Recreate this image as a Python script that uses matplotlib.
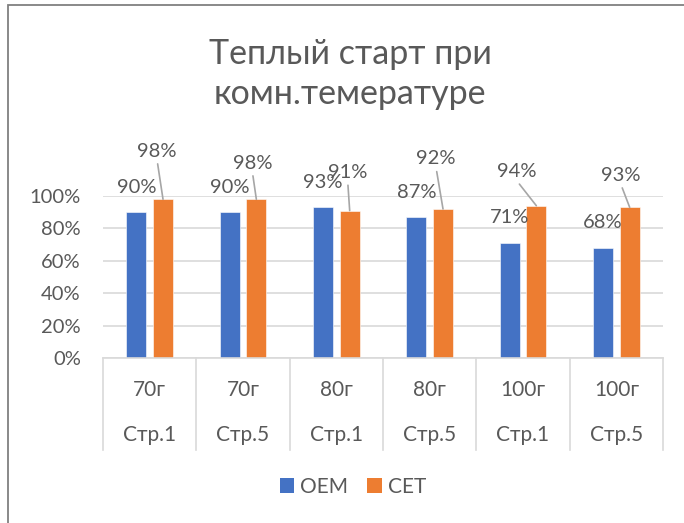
import matplotlib
matplotlib.use("Agg")
import matplotlib.pyplot as plt
import matplotlib.transforms as mtransforms
from matplotlib.patches import Rectangle, Patch
import numpy as np

# ---- data ----
weights = ["70г", "70г", "80г", "80г", "100г", "100г"]
pages = ["Стр.1", "Стр.5", "Стр.1", "Стр.5", "Стр.1", "Стр.5"]
series_names = ["OEM", "CET"]
oem = [0.90, 0.90, 0.93, 0.87, 0.71, 0.68]
cet = [0.98, 0.98, 0.91, 0.92, 0.94, 0.93]
yticks = [0, 0.2, 0.4, 0.6, 0.8, 1.0]
title = "Теплый старт при\nкомн.темературе"

# layout/style (pixel offsets of CET labels relative to bar top)
cet_label_offsets_px = [(-6, 48), (-4, 36), (-2, 38), (-7, 50), (-20, 34), (-9, 32)]

W, H, DPI = 684, 523, 100
BLUE = "#4472C4"
ORANGE = "#ED7D31"
TXT = "#595959"
GRID = "#D9D9D9"
FONT = ["Lato", "DejaVu Sans"]
plt.rcParams["font.family"] = FONT

fig = plt.figure(figsize=(W / DPI, H / DPI), dpi=DPI)
fig.patch.set_facecolor("white")

# axes position in pixels
x0, x1 = 103, 663
y_bot, y_top = 358, 196
ax = fig.add_axes([x0 / W, (H - y_bot) / H, (x1 - x0) / W, (y_bot - y_top) / H])

n = len(oem)
x = np.arange(n)
bw = 0.215
off = 0.143
ax.bar(x - off, oem, bw, color=BLUE, edgecolor="white", linewidth=0.4, zorder=3, label=series_names[0])
ax.bar(x + off, cet, bw, color=ORANGE, edgecolor="white", linewidth=0.4, zorder=3, label=series_names[1])

ax.set_xlim(-0.5, n - 0.5)
ax.set_ylim(0, 1.0)
ax.set_yticks(yticks)
ax.set_yticklabels([f"{int(round(v*100))}%" for v in yticks])
ax.tick_params(axis="y", length=0, pad=16, labelsize=14.5, labelcolor=TXT)
ax.set_xticks([])
ax.grid(axis="y", color=GRID, linewidth=1.2, zorder=0)
for s in ["left", "right", "top"]:
    ax.spines[s].set_visible(False)
ax.spines["bottom"].set_color(GRID)
ax.spines["bottom"].set_linewidth(1.2)
ax.spines["bottom"].set_zorder(4)

px2pt = 72.0 / DPI

# data labels
for i, v in enumerate(oem):
    ax.annotate(f"{int(round(v*100))}%", xy=(x[i] - off, v), xytext=(0, 25 * px2pt),
                textcoords="offset points", ha="center", va="center",
                fontsize=14.5, color=TXT, zorder=5, annotation_clip=False)
for i, v in enumerate(cet):
    dx, dy = cet_label_offsets_px[i]
    ax.annotate(f"{int(round(v*100))}%", xy=(x[i] + off, v), xytext=(dx * px2pt, dy * px2pt),
                textcoords="offset points", ha="center", va="center",
                fontsize=14.5, color=TXT, zorder=5, annotation_clip=False,
                arrowprops=dict(arrowstyle="-", color="#A6A6A6", lw=1.2,
                                shrinkA=1, shrinkB=0, relpos=(0.5, 0.0)))

# multi-level category axis
bt = mtransforms.blended_transform_factory(ax.transData, fig.transFigure)
row1_y = (H - 390) / H
row2_y = (H - 435) / H
line_bottom = (H - 450) / H
line_top = (H - y_bot) / H
for i in range(n):
    fig.text(x[i], row1_y, weights[i], transform=bt, ha="center", va="center",
             fontsize=15, color=TXT)
    fig.text(x[i], row2_y, pages[i], transform=bt, ha="center", va="center",
             fontsize=15, color=TXT)
for b in np.arange(-0.5, n, 1.0):
    fig.add_artist(plt.Line2D([b, b], [line_bottom, line_top], transform=bt,
                              color=GRID, linewidth=1.2))

# title
fig.text(350 / W, (H - 74) / H, title, ha="center", va="center", fontsize=24.5,
         color=TXT, linespacing=1.3)

# legend
handles = [Patch(facecolor=BLUE, edgecolor="none"), Patch(facecolor=ORANGE, edgecolor="none")]
leg = fig.legend(handles, series_names, loc="center", bbox_to_anchor=(353 / W, (H - 487) / H),
                 ncol=2, frameon=False, handlelength=0.7, handleheight=0.7,
                 handletextpad=0.3, columnspacing=0.9, fontsize=15)
for t in leg.get_texts():
    t.set_color(TXT)

# chart border (partially cropped)
fig.add_artist(Rectangle((8 / W, -0.1), 1.2, (H - 5) / H + 0.1, transform=fig.transFigure,
                         fill=False, edgecolor="#808080", linewidth=1.3))

fig.savefig("out.png", dpi=DPI, facecolor="white")
